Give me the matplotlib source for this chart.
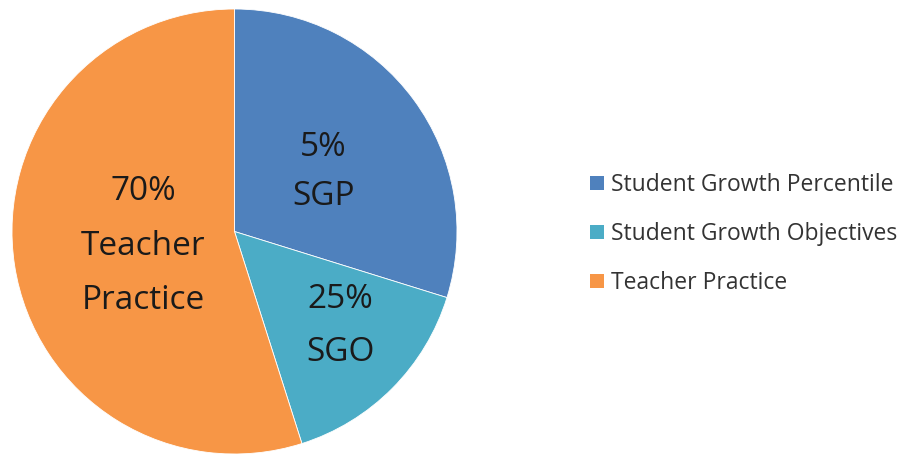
import numpy as np
import matplotlib
matplotlib.use("Agg")
import matplotlib.pyplot as plt
from matplotlib.patches import Patch

categories = ["Student Growth Percentile", "Student Growth Objectives", "Teacher Practice"]
slice_values = [29.8, 15.3, 54.9]
slice_labels = ["5%\nSGP", "25%\nSGO", "70%\nTeacher\nPractice"]
colors = ["#4F81BD", "#4BACC6", "#F79646"]

# label placement (in pie-radius units)
label_pos = [(0.40, 0.267), (0.477, -0.426), (-0.41, -0.066)]
label_spacing = [1.65, 1.8, 1.85]

plt.rcParams['font.family'] = ['Open Sans', 'DejaVu Sans']

fig = plt.figure(figsize=(9.11, 4.54), dpi=100)
ax = fig.add_axes([12/911, 0.0, 445/911, 445/454])
wedges, _ = ax.pie(slice_values, colors=colors, startangle=90, counterclock=False,
                   radius=1.0, wedgeprops=dict(edgecolor='white', linewidth=0.6))
ax.set_xlim(-1, 1)
ax.set_ylim(-1, 1)
ax.set_aspect('equal')
ax.axis('off')

for lab, (x, y), ls in zip(slice_labels, label_pos, label_spacing):
    ax.text(x, y, lab, ha='center', va='center',
            fontsize=24, color='#1a1a1a', linespacing=ls)

handles = [Patch(facecolor=c, edgecolor='none') for c in colors]
fig.legend(handles, categories, loc='upper left', bbox_to_anchor=(590/911, 1 - 173/454),
           frameon=False, fontsize=16.5, handlelength=0.6, handleheight=0.6,
           handletextpad=0.3, labelspacing=1.09, labelcolor='#333333',
           borderaxespad=0, borderpad=0)

fig.savefig("out.png", dpi=100)
